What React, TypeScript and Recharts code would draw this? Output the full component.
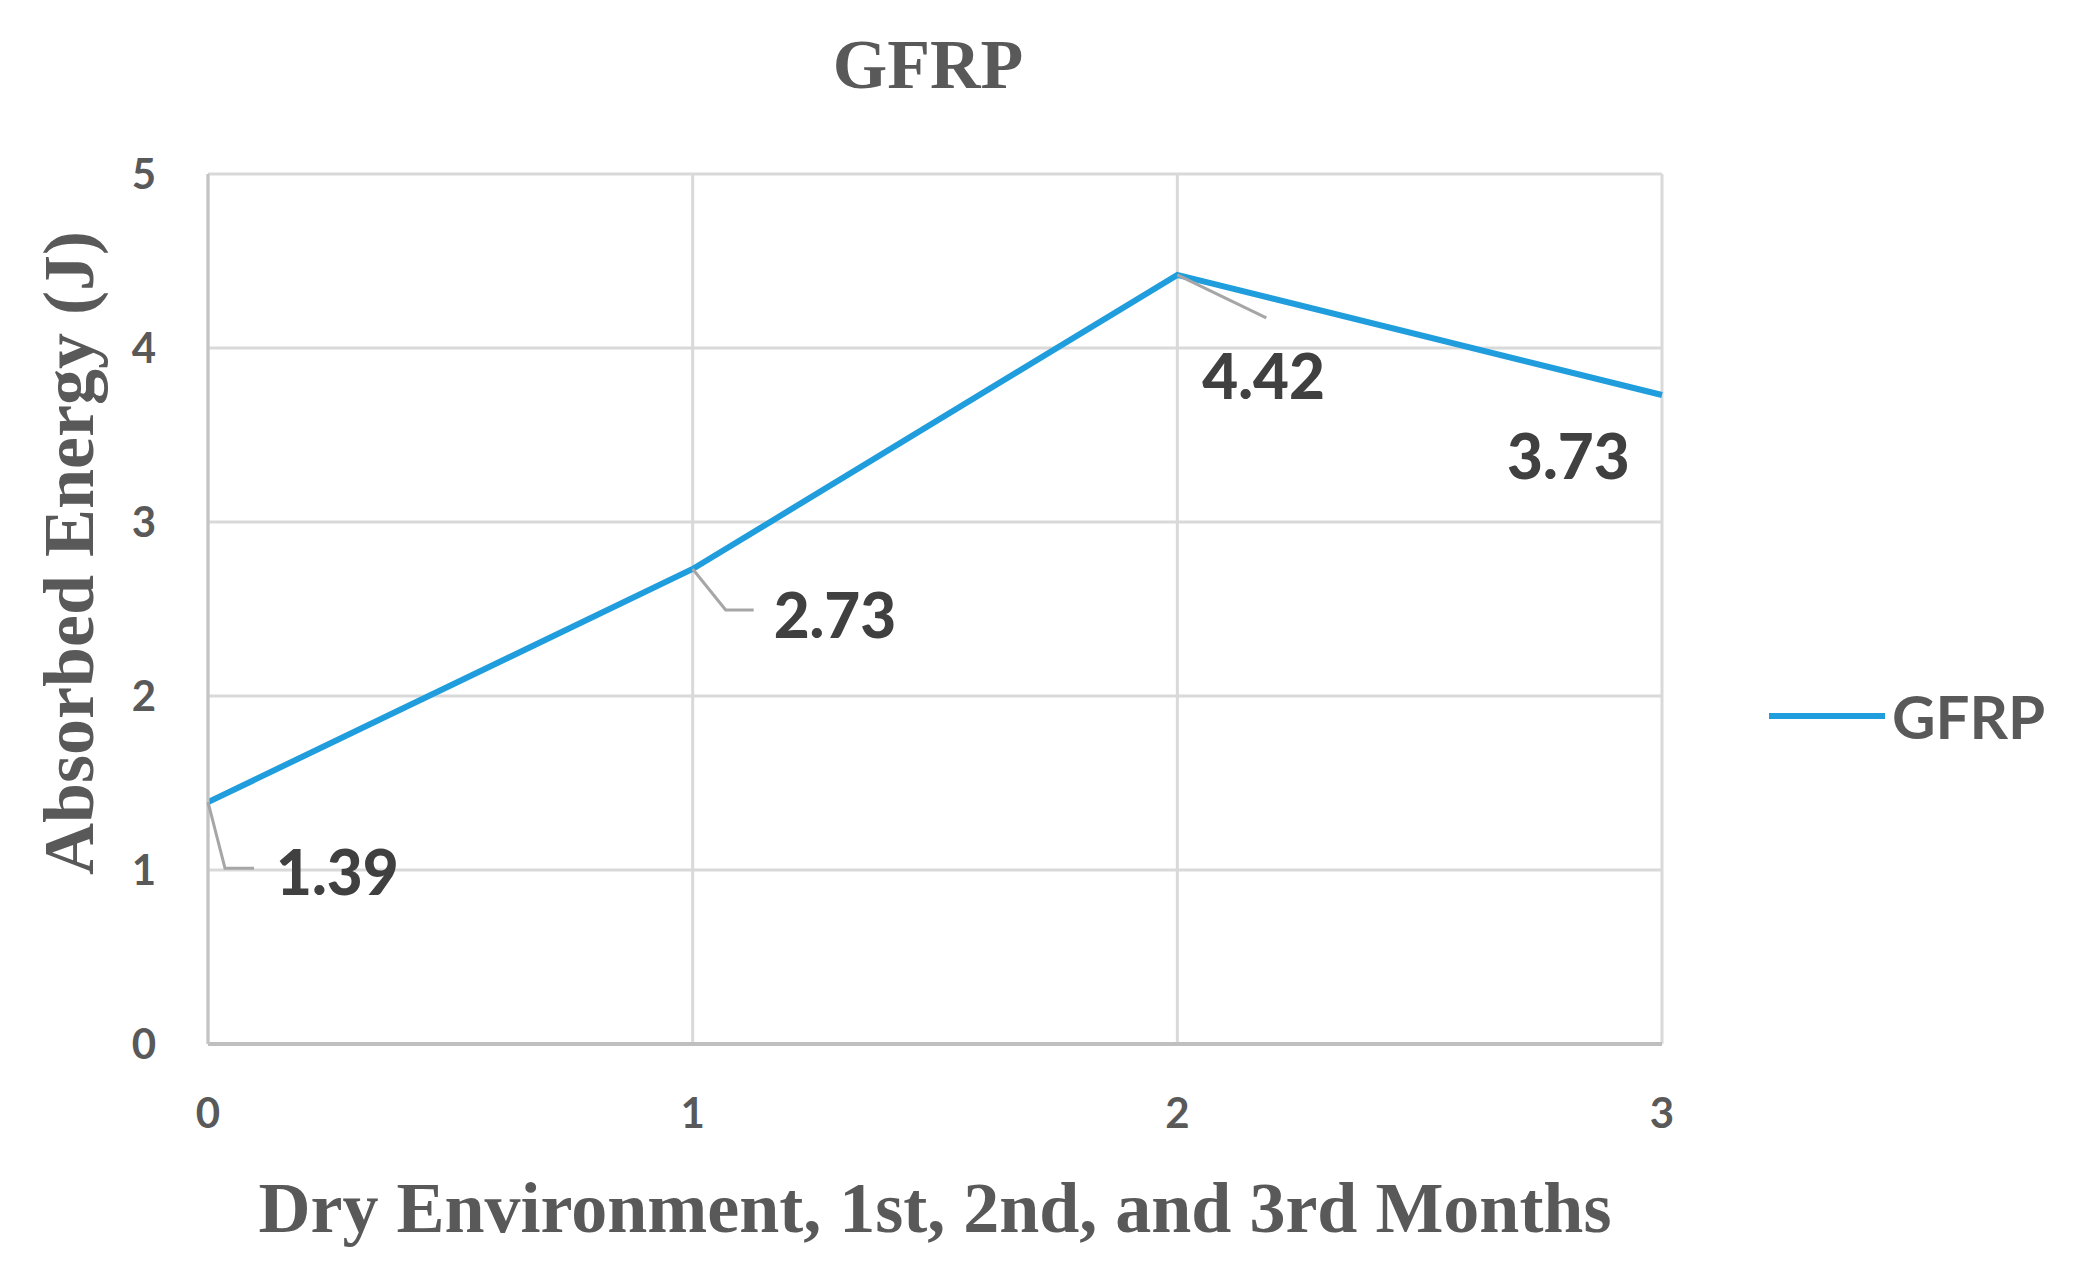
import React from 'react';
import { CartesianGrid, Label, LabelList, Legend, Line, LineChart, XAxis, YAxis } from 'recharts';

const months = [0, 1, 2, 3];
const gfrpEnergy = [1.39, 2.73, 4.42, 3.73];
const yTicks = [0, 1, 2, 3, 4, 5];

const data = months.map((m, i) => ({ month: m, GFRP: gfrpEnergy[i] }));

// where each value label sits relative to its point, plus its leader line
const labelPlacement = [
  { dx: 68, dy: 69, leader: [[17, 66], [46, 66]] },
  { dx: 81, dy: 45, leader: [[33, 41], [61, 41]] },
  { dx: 25, dy: 100, leader: [[89, 43]] },
  { dx: -155, dy: 60, leader: [] as number[][] },
];

const SERIF = '"Liberation Serif", "Times New Roman", serif';
const SANS = 'Lato, "Open Sans", sans-serif';
const LINE_BLUE = '#1f9ddc';
const LEGEND_W = 300;

function ValueLabel(props: any) {
  const { x, y, value, index } = props;
  const p = labelPlacement[index];
  if (!p) return null;
  const pts = [[x, y], ...p.leader.map(([a, b]) => [x + a, y + b])];
  return (
    <g>
      {p.leader.length > 0 && (
        <polyline points={pts.map((q) => q.join(',')).join(' ')} fill="none" stroke="#a6a6a6" strokeWidth={3} />
      )}
      <text x={x + p.dx} y={y + p.dy} dominantBaseline="central" fontFamily={SANS} fontWeight={900} fontSize={62} fill="#404040">
        {Number(value).toFixed(2)}
      </text>
    </g>
  );
}

function LegendContent() {
  return (
    <svg width={LEGEND_W} height={80}>
      <line x1={6} y1={40} x2={122} y2={40} stroke={LINE_BLUE} strokeWidth={6} />
      <text x={129} y={40} dominantBaseline="central" fontFamily={SANS} fontWeight={700} fontSize={60} fill="#595959">GFRP</text>
    </svg>
  );
}

function XTitle(props: any) {
  const { viewBox } = props;
  return (
    <text x={viewBox.x + viewBox.width / 2} y={viewBox.y + 188} textAnchor="middle" fontFamily={SERIF} fontWeight={700} fontSize={72} fill="#595959">
      Dry Environment, 1st, 2nd, and 3rd Months
    </text>
  );
}

function YTitle(props: any) {
  const { viewBox } = props;
  const cx = viewBox.x + viewBox.width - 139;
  const cy = viewBox.y + viewBox.height / 2 - 56;
  return (
    <text x={cx} y={cy} transform={`rotate(-90 ${cx} ${cy})`} textAnchor="middle" dominantBaseline="central" fontFamily={SERIF} fontWeight={700} fontSize={72} fill="#595959">
      Absorbed Energy (J)
    </text>
  );
}

export default function App() {
  return (
    <div style={{ position: 'absolute', left: 0, top: 0, width: 2078, height: 1268, background: '#fff' }}>
      <div style={{ position: 'absolute', left: 0, width: 1856, top: 20, textAlign: 'center', fontFamily: SERIF, fontWeight: 700, fontSize: 70, color: '#595959', lineHeight: '90px' }}>
        GFRP
      </div>
      <LineChart width={2078} height={1268} data={data} margin={{ top: 174, right: 416 - LEGEND_W, bottom: 154, left: 108 }}>
        <CartesianGrid stroke="#d9d9d9" strokeWidth={3} />
        <XAxis
          type="number"
          dataKey="month"
          domain={[0, 3]}
          ticks={months}
          height={70}
          axisLine={{ stroke: '#bfbfbf', strokeWidth: 4 }}
          tickLine={false}
          tickSize={0}
          tickMargin={54}
          tick={{ fill: '#595959', fontFamily: SANS, fontWeight: 700, fontSize: 42 }}
        >
          <Label content={<XTitle />} />
        </XAxis>
        <YAxis
          type="number"
          domain={[0, 5]}
          ticks={yTicks}
          width={100}
          axisLine={{ stroke: '#c4c4c4', strokeWidth: 3 }}
          tickLine={false}
          tickSize={0}
          tickMargin={52}
          tick={{ fill: '#595959', fontFamily: SANS, fontWeight: 700, fontSize: 42 }}
        >
          <Label content={<YTitle />} />
        </YAxis>
        <Legend layout="vertical" verticalAlign="top" align="right" content={<LegendContent />} wrapperStyle={{ top: 676, left: 1763, width: LEGEND_W }} />
        <Line type="linear" dataKey="GFRP" stroke={LINE_BLUE} strokeWidth={6} dot={false} activeDot={false} isAnimationActive={false}>
          <LabelList dataKey="GFRP" content={<ValueLabel />} />
        </Line>
      </LineChart>
    </div>
  );
}
